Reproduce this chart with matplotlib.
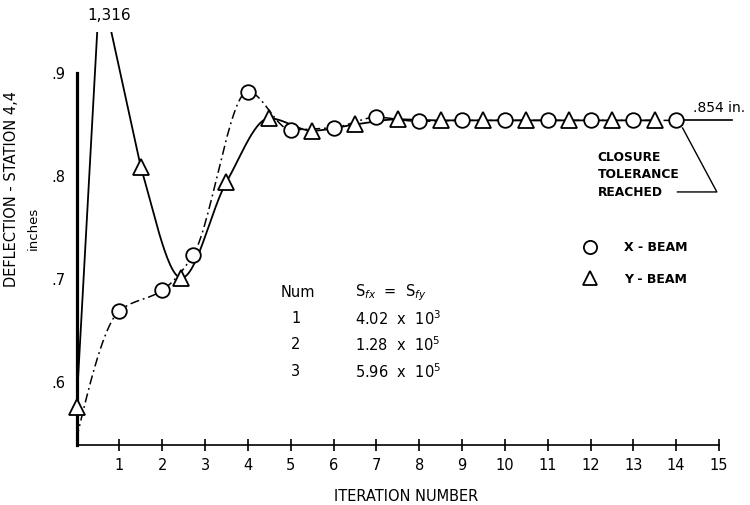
import numpy as np
import matplotlib
matplotlib.use("Agg")
import matplotlib.pyplot as plt
from matplotlib.lines import Line2D

# ---------------- data ----------------
x_beam_iteration = [0, 1, 2, 2.72, 4, 5, 6, 7, 8, 9, 10, 11, 12, 13, 14]
x_beam_deflection = [0.545, 0.669, 0.689, 0.723, 0.882, 0.845, 0.847, 0.857,
                     0.853, 0.854, 0.854, 0.854, 0.854, 0.854, 0.854]

y_beam_iteration = [0, 0.55, 1.5, 2.45, 3.5, 4.5, 5.5, 6.5, 7.5, 8.5, 9.5,
                    10.5, 11.5, 12.5, 13.5]
y_beam_deflection = [0.576, 1.316, 0.809, 0.701, 0.794, 0.856, 0.844, 0.850,
                     0.855, 0.854, 0.854, 0.854, 0.854, 0.854, 0.854]

final_value = 0.854
peak_label = "1,316"

x_ticks = list(range(1, 16))
y_ticks = [0.6, 0.7, 0.8, 0.9]
y_tick_labels = [".6", ".7", ".8", ".9"]

table_num = ["1", "2", "3"]
table_mantissa = ["4.02", "1.28", "5.96"]
table_exponent = [3, 5, 5]

legend_labels = ["X - BEAM", "Y - BEAM"]

# ---------------- compressed scale above .9 (off-scale peak) ----------------
BRK = 0.9
K = 0.2163


def fwd(y):
    y = np.asarray(y, dtype=float)
    return np.where(y <= BRK, y, BRK + (y - BRK) * K)


def inv(y):
    y = np.asarray(y, dtype=float)
    return np.where(y <= BRK, y, BRK + (y - BRK) / K)


def pchip_slopes(x, y):
    x = np.asarray(x, float)
    y = np.asarray(y, float)
    h = np.diff(x)
    delta = np.diff(y) / h
    n = len(x)
    d = np.zeros(n)
    for k in range(1, n - 1):
        if delta[k - 1] * delta[k] <= 0:
            d[k] = 0.0
        else:
            w1 = 2 * h[k] + h[k - 1]
            w2 = h[k] + 2 * h[k - 1]
            d[k] = (w1 + w2) / (w1 / delta[k - 1] + w2 / delta[k])

    def end(h0, h1, d0, d1):
        s = ((2 * h0 + h1) * d0 - h0 * d1) / (h0 + h1)
        if np.sign(s) != np.sign(d0):
            s = 0.0
        elif np.sign(d0) != np.sign(d1) and abs(s) > abs(3 * d0):
            s = 3 * d0
        return s

    d[0] = end(h[0], h[1], delta[0], delta[1])
    d[-1] = end(h[-1], h[-2], delta[-1], delta[-2])
    return d


def curve(xs, ys, straight=()):
    xs = np.asarray(xs, float)
    t = fwd(ys)
    d = pchip_slopes(xs, t)
    ox, oy = [xs[0]], [t[0]]
    for i in range(len(xs) - 1):
        if i in straight:
            ox.append(xs[i + 1])
            oy.append(t[i + 1])
            continue
        h = xs[i + 1] - xs[i]
        s = np.linspace(0, 1, 30)[1:]
        h00 = 2 * s**3 - 3 * s**2 + 1
        h10 = s**3 - 2 * s**2 + s
        h01 = -2 * s**3 + 3 * s**2
        h11 = s**3 - s**2
        yy = h00 * t[i] + h10 * h * d[i] + h01 * t[i + 1] + h11 * h * d[i + 1]
        ox.extend(xs[i] + s * h)
        oy.extend(yy)
    return np.array(ox), inv(np.array(oy))


# ---------------- figure ----------------
fig = plt.figure(figsize=(7.5, 5.05), dpi=100)
ax = fig.add_axes([76.5 / 750, 60 / 505, 642.5 / 750, 413.2 / 505])
ax.set_yscale("function", functions=(fwd, inv))
ax.set_xlim(0, 15)
ax.set_ylim(0.5388, BRK + 0.04 / K)

# Y-beam: solid line, triangles
yx, yy = curve(y_beam_iteration, y_beam_deflection, straight=(0, 1))
ax.plot(yx, yy, color="black", lw=1.3, solid_capstyle="butt", zorder=3)
ymask = [i for i in range(len(y_beam_iteration)) if i != 1]
ax.plot([y_beam_iteration[i] for i in ymask],
        [y_beam_deflection[i] for i in ymask],
        ls="none", marker="^", ms=11, mfc="white", mec="black", mew=1.3,
        zorder=6, clip_on=False)

# X-beam: dash-dot line, circles
xx, xy = curve(x_beam_iteration, x_beam_deflection)
ax.plot(xx, xy, color="black", lw=1.1, ls=(0, (6, 2.5, 1.2, 2.5)), zorder=3)
ax.plot(x_beam_iteration[1:], x_beam_deflection[1:], ls="none", marker="o",
        ms=10.5, mfc="white", mec="black", mew=1.3, zorder=6, clip_on=False)

# final value extension line and label
ax.plot([x_beam_iteration[-1], 15.3], [final_value, final_value],
        color="black", lw=1.2, clip_on=False, zorder=2)
ax.text(14.40, 0.866, f"{final_value:.3f}"[1:] + " in.", fontsize=10,
        ha="left", va="center")

# closure tolerance pointer
ax.plot([14.15, 14.95, 14.03], [0.8466, 0.7845, 0.7845], color="black",
        lw=1.0, clip_on=False)
for txt, yv in zip(["CLOSURE", "TOLERANCE", "REACHED"], [0.818, 0.8015, 0.784]):
    ax.text(12.17, yv, txt, fontsize=8.8, fontweight="bold", ha="left",
            va="center")

# peak label
ax.text(0.76, 1.040, peak_label, transform=ax.get_xaxis_transform(),
        fontsize=11, ha="center", va="center")

# table
ax.text(5.17, 0.6864, "Num", fontsize=10.5, ha="center", va="center")
ax.text(6.5, 0.6864, r"S$_{fx}$  =  S$_{fy}$", fontsize=10.5, ha="left",
        va="center")
for n, m, e, yv in zip(table_num, table_mantissa, table_exponent,
                       [0.6612, 0.6359, 0.6097]):
    ax.text(5.12, yv, n, fontsize=10.5, ha="center", va="center")
    ax.text(6.5, yv, m + "  x  10$^{" + str(e) + "}$", fontsize=10.5,
            ha="left", va="center")

# legend
handles = [
    Line2D([], [], ls="none", marker="o", ms=9.5, mfc="white", mec="black",
           mew=1.3),
    Line2D([], [], ls="none", marker="^", ms=10, mfc="white", mec="black",
           mew=1.3),
]
ax.legend(handles, legend_labels, loc="upper left",
          bbox_to_anchor=(0.79, 0.494), frameon=False, borderpad=0,
          borderaxespad=0, handlelength=1.0, handletextpad=2.2,
          labelspacing=1.5, prop={"size": 9, "weight": "bold"})

# axes styling
for s in ("top", "right"):
    ax.spines[s].set_visible(False)
ax.spines["left"].set_linewidth(2.3)
ax.spines["left"].set_bounds(0.5388, 0.9)
ax.spines["bottom"].set_linewidth(1.2)

ax.set_xticks(x_ticks)
ax.set_xticklabels([str(v) for v in x_ticks])
ax.tick_params(axis="x", direction="inout", length=8, width=1.2, pad=5,
               labelsize=10.5)
ax.set_yticks(y_ticks)
ax.set_yticklabels(y_tick_labels)
ax.yaxis.set_minor_locator(matplotlib.ticker.NullLocator())
ax.tick_params(axis="y", length=0, pad=8, labelsize=10.5)

ax.set_xlabel("ITERATION NUMBER", fontsize=10.5)
ax.xaxis.set_label_coords(0.513, -0.106)

ax.text(-0.1004, 0.6196, "DEFLECTION - STATION 4,4", transform=ax.transAxes,
        rotation=90, ha="center", va="center", fontsize=10.5)
ax.text(-0.0677, 0.525, "inches", transform=ax.transAxes, rotation=90,
        ha="center", va="center", fontsize=9.5)

fig.savefig("out.png", dpi=100)
